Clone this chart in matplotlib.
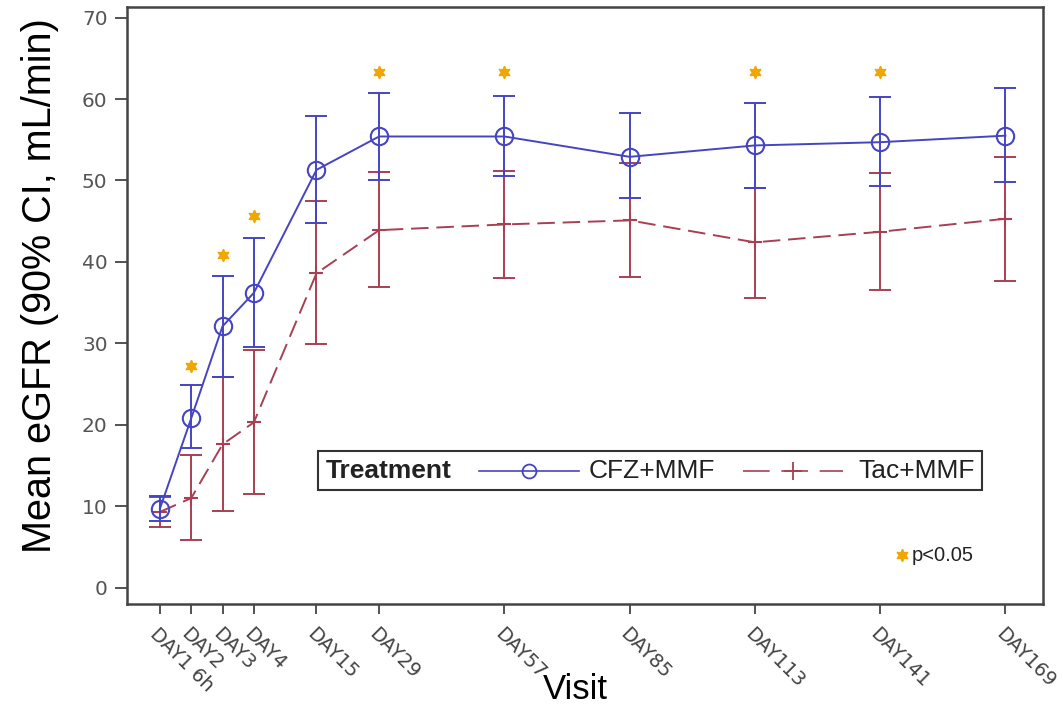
import numpy as np
import matplotlib
matplotlib.use('Agg')
import matplotlib.pyplot as plt
from matplotlib.lines import Line2D
from matplotlib.offsetbox import TextArea, DrawingArea, HPacker, AnchoredOffsetbox

# --- data ---
visits = ['DAY1 6h', 'DAY2', 'DAY3', 'DAY4', 'DAY15', 'DAY29',
          'DAY57', 'DAY85', 'DAY113', 'DAY141', 'DAY169']
visit_pos = [0, 1, 2, 3, 5, 7, 11, 15, 19, 23, 27]

cfz_mean = [9.7, 20.8, 32.1, 36.2, 51.3, 55.4, 55.4, 52.9, 54.3, 54.7, 55.5]
cfz_low = [8.2, 17.2, 25.9, 29.5, 44.8, 50.1, 50.5, 47.8, 49.1, 49.3, 49.8]
cfz_up = [11.3, 24.9, 38.3, 42.9, 57.9, 60.7, 60.4, 58.3, 59.5, 60.3, 61.4]

tac_mean = [9.3, 11.0, 17.6, 20.3, 38.6, 43.9, 44.6, 45.1, 42.4, 43.7, 45.3]
tac_low = [7.4, 5.9, 9.4, 11.5, 29.9, 36.9, 38.0, 38.1, 35.6, 36.5, 37.6]
tac_up = [11.1, 16.3, 25.9, 29.2, 47.5, 51.1, 51.2, 52.2, 49.1, 50.9, 52.9]

# visits with p<0.05 and where the star sits
sig_visits = ['DAY2', 'DAY3', 'DAY4', 'DAY29', 'DAY57', 'DAY113', 'DAY141']
sig_y = [27.2, 40.8, 45.6, 63.3, 63.3, 63.3, 63.3]

blue = '#4545C4'
red = '#A83F52'
star_col = '#F2A600'
axcol = '#444444'

fig = plt.figure(figsize=(10.63, 7.12), dpi=100)
ax = fig.add_axes([0.1195, 0.1517, 0.8617, 0.8385])

x = np.array(visit_pos, dtype=float)

def draw_series(mean, low, up, color, ls, marker, ms, z):
    mean = np.array(mean)
    err = [mean - np.array(low), np.array(up) - mean]
    ax.errorbar(x, mean, yerr=err, fmt='none', ecolor=color, elinewidth=1.4,
                capsize=8, capthick=1.4, zorder=z)
    ax.plot(x, mean, color=color, ls=ls, lw=1.4, marker=marker, ms=ms,
            mfc='none', mec=color, mew=1.5, zorder=z + 0.5)

draw_series(tac_mean, tac_low, tac_up, red, (0, (9, 4)), '+', 10, 2)
draw_series(cfz_mean, cfz_low, cfz_up, blue, '-', 'o', 12.5, 3)

star = (6, 1, 0)
sig_x = [visit_pos[visits.index(v)] for v in sig_visits]
ax.plot(sig_x, sig_y, ls='none', marker=star, ms=9, color=star_col, zorder=4)

# p<0.05 note
ax.plot([23.7], [4.0], ls='none', marker=star, ms=9, color=star_col)
ax.text(24.0, 4.0, 'p<0.05', fontsize=14.5, va='center', ha='left',
        family='Liberation Sans', color='#222222')

ax.set_xlim(-1.05, 28.2)
ax.set_ylim(-2, 71.3)
ax.set_yticks(range(0, 71, 10))
ax.set_xticks(visit_pos)
ax.set_xticklabels(visits, rotation=-45, ha='left', va='top',
                   rotation_mode='anchor', fontsize=14, color='#444444')
ax.tick_params(axis='x', length=7.5, width=1.3, color=axcol, pad=7)
ax.tick_params(axis='y', length=9, width=1.3, color=axcol, labelsize=14.5,
               labelcolor='#555555', pad=5)
for s in ax.spines.values():
    s.set_color(axcol)
    s.set_linewidth(1.8)

ax.set_ylabel('Mean eGFR (90% CI, mL/min)', fontsize=28.5,
              family='Liberation Sans')
ax.yaxis.set_label_coords(-0.074, 0.533)
ax.set_xlabel('Visit', fontsize=25, family='Liberation Sans', va='top')
ax.xaxis.set_label_coords(0.489, -0.115)

# --- legend: "Treatment" title on the left, entries in one row ---
def legend_key(color, ls, marker, ms):
    da = DrawingArea(72, 14, 0, 0)
    da.add_artist(Line2D([0, 72], [7, 7], color=color, ls=ls, lw=1.2))
    da.add_artist(Line2D([36], [7], marker=marker, ms=ms, mfc='none',
                         mec=color, mew=1.3, ls='none'))
    return da

tp = dict(fontsize=19, family='Liberation Sans', color='#222222')
title = TextArea('Treatment', textprops=dict(tp, fontweight='bold'))
e1 = HPacker(children=[legend_key(blue, '-', 'o', 10), TextArea('CFZ+MMF', textprops=tp)],
             align='center', pad=0, sep=7)
e2 = HPacker(children=[legend_key(red, (0, (16, 7)), '+', 13), TextArea('Tac+MMF', textprops=tp)],
             align='center', pad=0, sep=11)
row = HPacker(children=[title, e1, e2], align='center', pad=0, sep=20)
box = AnchoredOffsetbox(loc='lower left', child=row, pad=0.35, borderpad=0,
                        frameon=True, bbox_to_anchor=(0.2085, 0.191),
                        bbox_transform=ax.transAxes, prop=dict(size=15))
box.patch.set_edgecolor('#333333')
box.patch.set_linewidth(1.5)
box.patch.set_boxstyle('square', pad=0)
ax.add_artist(box)

plt.savefig('out.png', dpi=100)
